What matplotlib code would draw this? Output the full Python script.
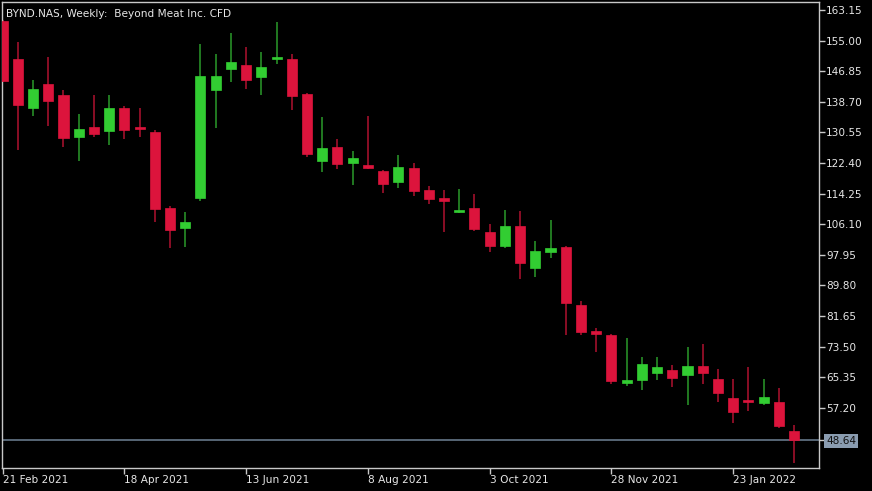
import pandas as pd
import numpy as np
import matplotlib
matplotlib.use('Agg')
import matplotlib.pyplot as plt
import matplotlib.transforms as mtransforms

# weekly BYND.NAS bars
weeks = pd.date_range('2021-02-21', periods=53, freq='7D')

opens = [160.22, 150.02, 136.97, 143.44, 140.43, 129.33, 131.99, 130.85, 137.13, 131.99,
         130.58, 110.42, 105.17, 113.00, 141.93, 147.36, 148.50, 145.31, 150.10, 150.10,
         140.70, 122.94, 126.75, 122.48, 121.95, 120.35, 117.35, 121.15, 115.29, 113.00,
         109.28, 110.50, 104.11, 100.38, 105.63, 94.52, 98.78, 100.03, 84.59, 77.74,
         76.52, 63.82, 64.54, 66.56, 67.28, 65.87, 68.34, 64.80, 59.74, 59.10,
         58.49, 58.76, 51.03]
highs = [160.50, 154.63, 144.51, 150.63, 141.77, 135.37, 140.43, 140.43, 137.58, 137.05,
         131.11, 110.95, 109.43, 154.10, 151.43, 157.02, 153.30, 151.89, 159.95, 151.35,
         141.13, 134.65, 128.80, 125.68, 134.92, 120.54, 124.54, 122.40, 116.36, 115.29,
         115.48, 114.23, 106.16, 109.97, 109.70, 101.63, 107.22, 100.17, 85.57, 78.46,
         76.94, 75.72, 70.74, 70.74, 68.61, 73.40, 74.20, 67.54, 64.80, 68.16,
         64.80, 62.48, 52.63]
lows = [143.98, 125.79, 134.92, 132.34, 126.59, 122.94, 129.33, 127.28, 128.80, 129.33,
        106.77, 99.85, 100.03, 112.28, 131.81, 144.06, 142.19, 140.51, 148.85, 136.44,
        124.00, 120.09, 120.73, 116.63, 120.73, 114.34, 115.83, 113.62, 111.57, 103.95,
        109.20, 104.22, 98.78, 99.85, 91.43, 92.13, 97.02, 76.68, 76.68, 72.15,
        63.63, 63.02, 62.03, 64.54, 62.83, 57.96, 63.55, 58.76, 53.09, 56.44,
        58.04, 51.83, 42.43]
closes = [144.24, 137.93, 142.19, 139.00, 129.14, 131.54, 130.13, 137.13, 131.19, 131.38,
          110.23, 104.48, 106.69, 145.49, 145.49, 149.30, 144.51, 148.05, 150.63, 140.25,
          124.72, 126.48, 122.22, 123.74, 120.99, 116.89, 121.42, 114.87, 112.82, 112.28,
          109.62, 104.91, 100.38, 105.63, 95.85, 99.05, 99.77, 85.12, 77.48, 76.78,
          64.27, 64.62, 68.96, 68.08, 65.07, 68.34, 66.40, 61.23, 56.17, 58.68,
          60.17, 52.37, 48.64]

price_ticks = [163.15, 155.00, 146.85, 138.70, 130.55, 122.40, 114.25, 106.10,
               97.95, 89.80, 81.65, 73.50, 65.35, 57.20]
last_price = 48.64

up_col = '#32cd32'
down_col = '#dc143c'
up_wick = '#2a9a2a'
down_wick = '#b0122f'
frame_col = '#c8c8c8'
text_col = '#e6e6e6'

fig = plt.figure(figsize=(8.72, 4.91), dpi=100)
fig.set_facecolor('black')
ax = fig.add_axes([2 / 872, 23 / 491, 817 / 872, 466 / 491])
ax.set_facecolor('black')

x = np.arange(len(weeks))
o = np.array(opens)
h = np.array(highs)
l = np.array(lows)
c = np.array(closes)
up = c >= o

body_cols = np.where(up, up_col, down_col)
wick_cols = np.where(up, up_wick, down_wick)

ax.vlines(x, l, h, colors=wick_cols, linewidth=1.1, zorder=2)
bottom = np.minimum(o, c)
height = np.maximum(np.abs(c - o), 0.5)
ax.bar(x, height, bottom=bottom, width=0.66, color=body_cols,
       edgecolor=body_cols, linewidth=0.5, zorder=3)

# current price line
ax.axhline(last_price, color='#66788a', linewidth=1.2, zorder=1)

ax.set_xlim(-0.04, 53.64)
ax.set_ylim(41.18, 165.28)

# right price scale
ax.yaxis.tick_right()
ax.set_yticks(price_ticks + [last_price])
ax.set_yticklabels(['%.2f' % v for v in price_ticks] + ['%.2f' % last_price])
ax.tick_params(axis='y', direction='out', length=4, width=1, colors=frame_col,
               labelcolor=text_col, labelsize=7.6, pad=1)
lab = ax.get_yticklabels()[-1]
lab.set_color('#111111')
lab.set_bbox(dict(facecolor='#8a9cb0', edgecolor='none', pad=1.2))

# date axis every 8 weeks
xt = list(range(0, len(weeks), 8))
ax.set_xticks(xt)
ax.set_xticklabels([f"{weeks[i].day} {weeks[i].strftime('%b %Y')}" for i in xt])
ax.tick_params(axis='x', direction='out', length=4, width=1, colors=frame_col,
               labelcolor=text_col, labelsize=7.6, pad=1)
for t in ax.get_xticklabels():
    t.set_horizontalalignment('left')

for s in ax.spines.values():
    s.set_color(frame_col)
    s.set_linewidth(1)

ax.text(0.005, 0.985, 'BYND.NAS, Weekly:  Beyond Meat Inc. CFD', transform=ax.transAxes,
        color=text_col, fontsize=7.6, ha='left', va='top')

fig.savefig('out.png', dpi=100, facecolor='black')
